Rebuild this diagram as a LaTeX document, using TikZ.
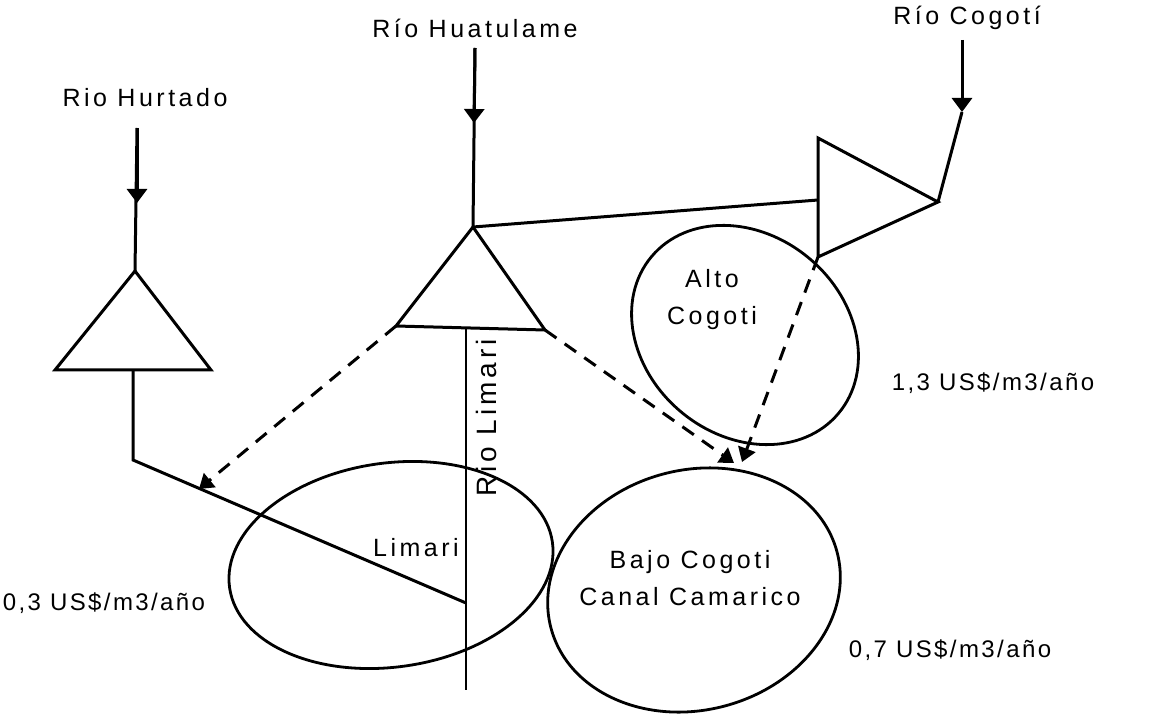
\documentclass[tikz,border=0pt]{standalone}
\usepackage{fontspec}
\setmainfont{Liberation Sans}
\newfontfamily\lblfont[LetterSpace=14]{Liberation Sans}
\newfontfamily\pricefont[LetterSpace=10]{Liberation Sans}
\usetikzlibrary{arrows.meta}
\begin{document}
\begin{tikzpicture}[x=0.5pt,y=-0.5pt,
  river/.style={line width=1.5pt, line join=miter},
  thin river/.style={line width=1.1pt},
  inflow/.style={line width=1.5pt, -{Triangle[length=7pt,width=10pt]}},
  transfer/.style={line width=1.5pt, dash pattern=on 7pt off 5pt, -{Triangle[length=7pt,width=9pt]}},
  zone/.style={line width=1.4pt},
  lbl/.style={font=\lblfont\fontsize{12.5}{18.5}\selectfont, inner sep=0pt, align=center},
  price/.style={font=\pricefont\fontsize{12}{14}\selectfont, inner sep=0pt},
]
\useasboundingbox (0,0) rectangle (1150,716);

% ---- irrigation zones ----
\draw[zone, rotate around={-40:(745,335)}] (745,335) ellipse [x radius=61pt, y radius=50pt];
\draw[zone, rotate around={8:(391,565)}] (391,565) ellipse [x radius=81.5pt, y radius=51pt];
\draw[zone, rotate around={15:(694,590)}] (694,590) ellipse [x radius=74pt, y radius=60pt];

% ---- key points ----
% Rio Hurtado reservoir
\coordinate (hurSrc) at (137,128);
\coordinate (hurTip) at (137,203);
\coordinate (hurA) at (135,271);
\coordinate (hurL) at (55,370);
\coordinate (hurR) at (211,370);
\coordinate (hurOut) at (133,370);
\coordinate (hurBend) at (133,460);
\coordinate (hurEnd) at (466,603);
\coordinate (hurDrop) at (199,489);
% Rio Huatulame reservoir
\coordinate (huaSrc) at (475,48);
\coordinate (huaTip) at (474,123);
\coordinate (huaA) at (473,227);
\coordinate (huaL) at (396,326);
\coordinate (huaR) at (545,330);
\coordinate (limTop) at (466,328);
\coordinate (limEnd) at (466,690);
% Rio Cogoti reservoir
\coordinate (cogSrc) at (962,40);
\coordinate (cogTip) at (962,112);
\coordinate (cogT) at (818,138);
\coordinate (cogP) at (938,202);
\coordinate (cogB) at (818,257);
\coordinate (cogIn) at (818,200);
% delivery points on Bajo Cogoti
\coordinate (bajoA) at (734,463);
\coordinate (bajoB) at (742,462);

% ---- reservoirs ----
\draw[river] (hurA) -- (hurL) -- (hurR) -- cycle;
\draw[river] (huaA) -- (huaL) -- (huaR) -- cycle;
\draw[river] (cogT) -- (cogP) -- (cogB) -- cycle;

% ---- rivers ----
\draw[river] (hurSrc) -- (hurA);
\draw[inflow] (hurSrc) -- (hurTip);
\draw[river] (hurOut) -- (hurBend) -- (hurEnd);

\draw[river] (huaSrc) -- (huaA);
\draw[inflow] (huaSrc) -- (huaTip);
\draw[river] (huaA) -- (cogIn);
\draw[thin river] (limTop) -- (limEnd);

\draw[river] (cogTip) -- (cogP);
\draw[inflow] (cogSrc) -- (cogTip);

% ---- transfers ----
\draw[transfer] (huaL) -- (hurDrop);
\draw[transfer] (huaR) -- (bajoA);
\draw[transfer] (cogB) -- (bajoB);

% ---- labels ----
\node[lbl] (tHur) at (145,98) {Rio Hurtado};
\node[lbl] (tHua) at (475,28) {Río Huatulame};
\node[lbl] (tCog) at (967,18) {Río Cogotí};
\node[lbl] (tAlto) at (712,300) {Alto\\Cogoti};
\node[lbl] (tBajo) at (690,578) {Bajo Cogoti\\Canal Camarico};
\node[lbl] (tLim) at (416,548) {Limari};
\node[lbl, font=\lblfont\fontsize{14}{16}\selectfont, rotate=90] (tRL) at (486,418) {Rio Limari};
\node[price] (p1) at (993,383) {1,3 US\$/m3/año};
\node[price] (p2) at (104,603) {0,3 US\$/m3/año};
\node[price] (p3) at (950,650) {0,7 US\$/m3/año};
\end{tikzpicture}
\end{document}
